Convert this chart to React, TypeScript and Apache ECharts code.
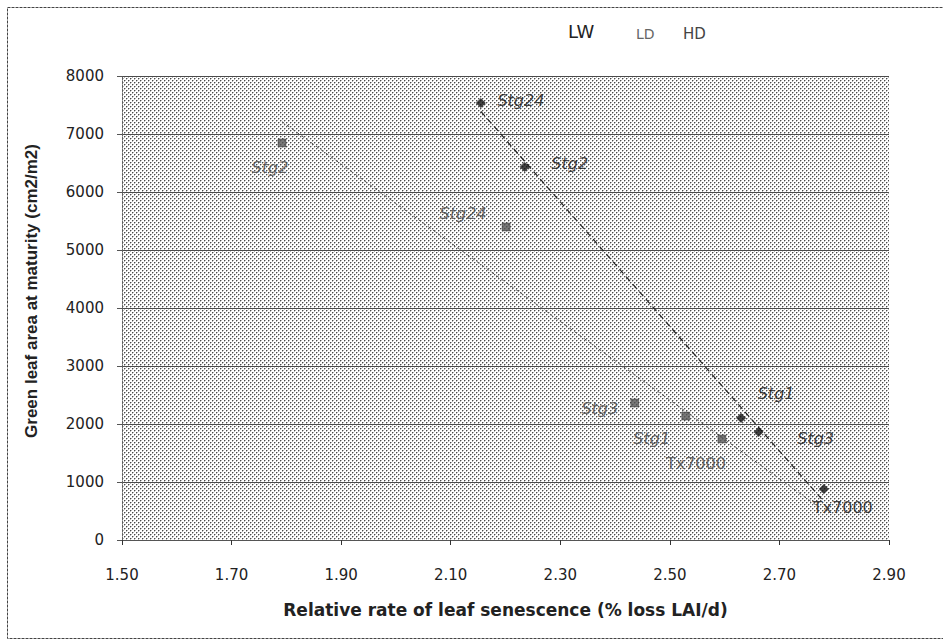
import React, { useEffect, useRef } from "react";
import * as echarts from "echarts";

// ---- data ----
const hdNames = ["Stg24", "Stg2", "Stg1", "Stg3", "Tx7000"];
const hdX = [2.155, 2.235, 2.63, 2.662, 2.781];
const hdY = [7534, 6431, 2103, 1862, 879];

const ldNames = ["Stg2", "Stg24", "Stg3", "Stg1", "Tx7000"];
const ldX = [1.792, 2.201, 2.436, 2.529, 2.595];
const ldY = [6845, 5397, 2362, 2138, 1741];

const xTicks = [1.5, 1.7, 1.9, 2.1, 2.3, 2.5, 2.7, 2.9];
const yTicks = [0, 1000, 2000, 3000, 4000, 5000, 6000, 7000, 8000];

const legendItems = ["LW", "LD", "HD"];

// label placement (styling only): offsets in px from marker centre
const hdLabelOffsets: Record<string, [number, number]> = {
  Stg24: [40, -3],
  Stg2: [45, -4],
  Stg1: [35, -25],
  Stg3: [57, 6],
  Tx7000: [19, 18],
};
const ldLabelOffsets: Record<string, [number, number]> = {
  Stg2: [-12, 25],
  Stg24: [-43, -13],
  Stg3: [-35, 5],
  Stg1: [-34, 23],
  Tx7000: [-26, 24],
};

function regression(xs: number[], ys: number[]) {
  const n = xs.length;
  const mx = xs.reduce((a, b) => a + b, 0) / n;
  const my = ys.reduce((a, b) => a + b, 0) / n;
  let sxy = 0,
    sxx = 0;
  for (let i = 0; i < n; i++) {
    sxy += (xs[i] - mx) * (ys[i] - my);
    sxx += (xs[i] - mx) * (xs[i] - mx);
  }
  const slope = sxy / sxx;
  const icpt = my - slope * mx;
  return (x: number) => icpt + slope * x;
}

function makePattern(): HTMLCanvasElement {
  const c = document.createElement("canvas");
  c.width = 4;
  c.height = 4;
  const ctx = c.getContext("2d")!;
  ctx.fillStyle = "#ffffff";
  ctx.fillRect(0, 0, 4, 4);
  ctx.fillStyle = "#4a4a4a";
  ctx.fillRect(0, 0, 1, 1);
  ctx.fillRect(2, 2, 1, 1);
  ctx.fillStyle = "#b4b4b4";
  ctx.fillRect(1, 0, 1, 1);
  ctx.fillRect(0, 1, 1, 1);
  ctx.fillRect(3, 2, 1, 1);
  ctx.fillRect(2, 3, 1, 1);
  return c;
}

export default function App() {
  const ref = useRef<HTMLDivElement>(null);

  useEffect(() => {
    document.body.style.margin = "0";
    const chart = echarts.init(ref.current!, undefined, { renderer: "svg" });

    const gl = 122,
      gt = 76,
      gw = 767,
      gh = 464;

    const hdFit = regression(hdX, hdY);
    const ldFit = regression(ldX, ldY);
    const hdMin = Math.min(...hdX),
      hdMax = Math.max(...hdX);
    const ldMin = Math.min(...ldX);
    const ldForecastEnd = 2.77;

    const labelBase = {
      show: true,
      position: "inside" as const,
      fontFamily: "DejaVu Sans",
      fontSize: 16,
      fontStyle: "italic" as const,
      formatter: "{b}",
    };

    const option: any = {
      animation: false,
      backgroundColor: "#ffffff",
      grid: { left: gl, top: gt, width: gw, height: gh, containLabel: false },
      xAxis: {
        type: "value",
        min: 1.5,
        max: 2.9,
        interval: 0.2,
        axisLine: { show: true, onZero: false, lineStyle: { color: "#555", width: 1 } },
        axisTick: { show: true, length: 5, lineStyle: { color: "#333" } },
        splitLine: { show: false },
        axisLabel: {
          color: "#222",
          fontFamily: "DejaVu Sans",
          fontSize: 15,
          margin: 27,
          formatter: (v: number) => (xTicks.some((t) => Math.abs(t - v) < 1e-6) ? v.toFixed(2) : ""),
        },
        name: "Relative rate of leaf senescence (% loss LAI/d)",
        nameLocation: "middle",
        nameGap: 61,
        nameTextStyle: {
          color: "#222",
          fontFamily: "DejaVu Sans",
          fontWeight: "bold",
          fontSize: 17,
        },
      },
      yAxis: {
        type: "value",
        min: yTicks[0],
        max: yTicks[yTicks.length - 1],
        interval: 1000,
        axisLine: { show: true, lineStyle: { color: "#666", width: 1, type: "dotted" } },
        axisTick: { show: true, length: 5, lineStyle: { color: "#555" } },
        splitLine: { show: true, lineStyle: { color: "#4a4a4a", width: 1 } },
        axisLabel: {
          color: "#222",
          fontFamily: "DejaVu Sans",
          fontSize: 15,
          margin: 18,
          formatter: (v: number) => String(v),
        },
        name: "Green leaf area at maturity (cm2/m2)",
        nameLocation: "middle",
        nameGap: 82,
        nameTextStyle: {
          color: "#222",
          fontFamily: "Liberation Sans",
          fontWeight: "bold",
          fontSize: 17,
          padding: [0, 0, 0, 34],
        },
      },
      graphic: [
        {
          type: "rect",
          z: -10,
          silent: true,
          shape: { x: gl, y: gt, width: gw, height: gh },
          style: { fill: { image: makePattern(), repeat: "repeat" } as any },
        },
        {
          type: "rect",
          silent: true,
          shape: { x: 7.5, y: 7.5, width: 945, height: 631 },
          style: { fill: "none", stroke: "#444", lineWidth: 1, lineDash: [3, 1] },
        },
        {
          type: "text",
          x: 568,
          y: 22,
          style: { text: legendItems[0], fontFamily: "DejaVu Sans", fontSize: 18, fill: "#222" },
        },
        {
          type: "text",
          x: 636,
          y: 27,
          style: { text: legendItems[1], fontFamily: "DejaVu Sans", fontSize: 14, fill: "#666" },
        },
        {
          type: "text",
          x: 683,
          y: 26,
          style: { text: legendItems[2], fontFamily: "DejaVu Sans", fontSize: 15, fill: "#444" },
        },
      ],
      series: [
        {
          name: "HD fit",
          type: "line",
          symbol: "none",
          silent: true,
          z: 1,
          lineStyle: { color: "#222", width: 1.2, type: [6, 4] },
          data: [
            [hdMin, hdFit(hdMin)],
            [hdMax, hdFit(hdMax)],
          ],
        },
        {
          name: "LD fit",
          type: "line",
          symbol: "none",
          silent: true,
          z: 1,
          lineStyle: { color: "#555", width: 1, type: [3, 3] },
          data: [
            [ldMin, ldFit(ldMin)],
            [ldForecastEnd, ldFit(ldForecastEnd)],
          ],
        },
        {
          name: "HD",
          type: "scatter",
          symbol: "diamond",
          symbolSize: 10,
          z: 3,
          itemStyle: { color: "#111" },
          data: hdNames.map((n, i) => ({
            name: n,
            value: [hdX[i], hdY[i]],
            label: {
              ...labelBase,
              color: "#111",
              fontStyle: n === "Tx7000" ? "normal" : "italic",
              offset: hdLabelOffsets[n],
            },
          })),
        },
        {
          name: "LD",
          type: "scatter",
          symbol: "rect",
          symbolSize: 8,
          z: 3,
          itemStyle: { color: "#555", borderColor: "#222", borderWidth: 0.5 },
          data: ldNames.map((n, i) => ({
            name: n,
            value: [ldX[i], ldY[i]],
            label: {
              ...labelBase,
              color: "#444",
              fontStyle: n === "Tx7000" ? "normal" : "italic",
              offset: ldLabelOffsets[n],
            },
          })),
        },
      ],
    };

    chart.setOption(option);
    return () => chart.dispose();
  }, []);

  return <div ref={ref} style={{ width: 943, height: 641 }} />;
}
